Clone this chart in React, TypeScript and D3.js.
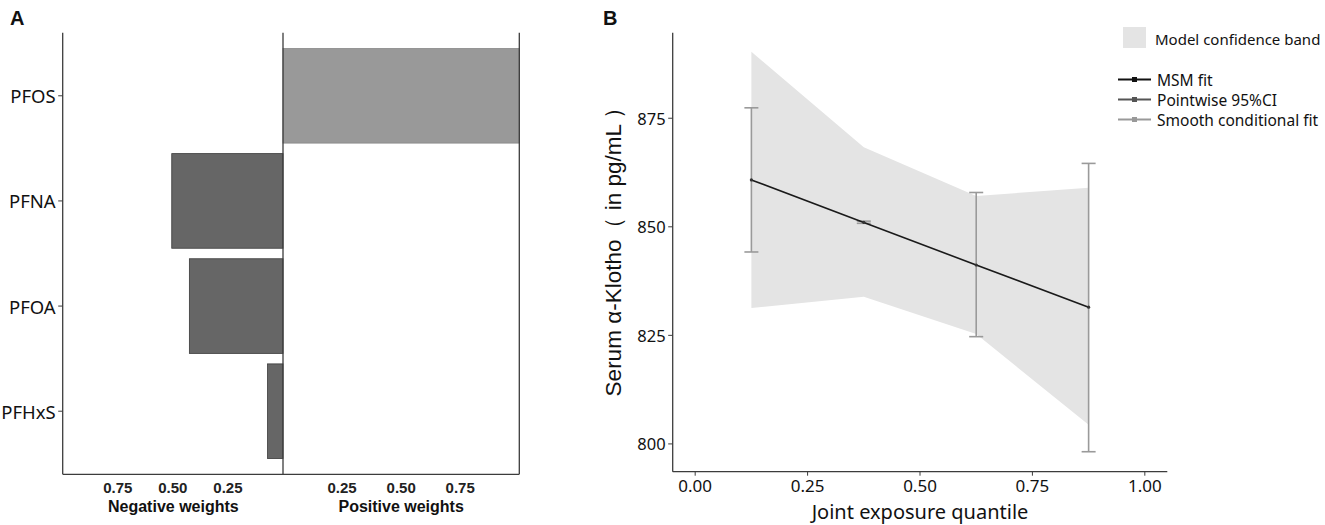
import React, { useEffect, useRef } from 'react';
import * as d3 from 'd3';

// Panel A: qgcomp weights
const chemicals = ['PFOS', 'PFNA', 'PFOA', 'PFHxS'];
const weights = [1.0, -0.505, -0.425, -0.07];
const weightTicks = [0.25, 0.5, 0.75];

// Panel B: joint exposure effect
const quantiles = [0.125, 0.375, 0.625, 0.875];
const msmFit = [860.8, 851.0, 841.2, 831.5];
const ciLower = [844.2, 850.8, 824.7, 798.2];
const ciUpper = [877.4, 851.3, 857.9, 864.6];
const bandLower = [831.3, 833.9, 825.3, 804.4];
const bandUpper = [890.3, 868.3, 857.1, 859.0];
const xTicks = [0, 0.25, 0.5, 0.75, 1];
const yTicks = [800, 825, 850, 875];
const legendLines = ['MSM fit', 'Pointwise 95%CI', 'Smooth conditional fit'];
const legendColors = ['#111', '#555', '#999'];

const sans = '"Noto Sans", "Open Sans", sans-serif';
const arial = '"Liberation Sans", Arial, sans-serif';

const App: React.FC = () => {
  const ref = useRef<SVGSVGElement | null>(null);

  useEffect(() => {
    if (!ref.current) return;
    const svg = d3.select(ref.current);
    svg.selectAll('*').remove();

    // ---------- Panel A ----------
    const top = 32.7;
    const bottom = 474.3;
    const left = 62.7;
    const mid = 283;
    const right = 519.3;

    const y = d3.scaleBand().domain(chemicals).range([top, bottom]).paddingInner(0.1).paddingOuter(0.15);
    const xNeg = d3.scaleLinear().domain([1, 0]).range([left, mid]);
    const xPos = d3.scaleLinear().domain([0, 1]).range([mid, right]);

    const a = svg.append('g');

    a.selectAll('rect.bar')
      .data(chemicals.map((c, i) => ({ c, w: weights[i] })).filter((d) => d.w !== 0))
      .enter()
      .append('rect')
      .attr('class', 'bar')
      .attr('x', (d) => (d.w > 0 ? xPos(0) : xNeg(-d.w)))
      .attr('width', (d) => (d.w > 0 ? xPos(d.w) - xPos(0) : xNeg(0) - xNeg(-d.w)))
      .attr('y', (d) => y(d.c)!)
      .attr('height', y.bandwidth())
      .attr('fill', (d) => (d.w > 0 ? '#999' : '#666'))
      .attr('stroke', (d) => (d.w > 0 ? '#888' : '#3a3a3a'))
      .attr('stroke-width', 0.8);

    // axis lines
    const axisColor = '#3c3c3c';
    [left, mid, right].forEach((xv) =>
      a.append('line').attr('x1', xv).attr('x2', xv).attr('y1', top).attr('y2', bottom)
        .attr('stroke', axisColor).attr('stroke-width', 1.3)
    );
    a.append('line').attr('x1', left).attr('x2', right).attr('y1', bottom).attr('y2', bottom)
      .attr('stroke', axisColor).attr('stroke-width', 1.3);

    // category labels
    chemicals.forEach((c) => {
      const cy = y(c)! + y.bandwidth() / 2;
      a.append('line').attr('x1', left - 4.5).attr('x2', left).attr('y1', cy).attr('y2', cy)
        .attr('stroke', axisColor).attr('stroke-width', 1);
      a.append('text').attr('x', left - 7).attr('y', cy).attr('text-anchor', 'end')
        .attr('dominant-baseline', 'central').attr('font-family', sans).attr('font-size', 18.5)
        .attr('fill', '#111').text(c);
    });

    // tick labels (no tick marks)
    weightTicks.forEach((t) => {
      [xNeg(t), xPos(t)].forEach((xv) =>
        a.append('text').attr('x', xv).attr('y', 487.5).attr('text-anchor', 'middle')
          .attr('dominant-baseline', 'central').attr('font-family', arial).attr('font-weight', 'bold')
          .attr('font-size', 15).attr('fill', '#222').text(t.toFixed(2))
      );
    });
    a.append('text').attr('x', (left + mid) / 2 + 0.5).attr('y', 506).attr('text-anchor', 'middle')
      .attr('dominant-baseline', 'central').attr('font-family', arial).attr('font-weight', 'bold')
      .attr('font-size', 16).attr('fill', '#111').text('Negative weights');
    a.append('text').attr('x', (mid + right) / 2).attr('y', 506).attr('text-anchor', 'middle')
      .attr('dominant-baseline', 'central').attr('font-family', arial).attr('font-weight', 'bold')
      .attr('font-size', 16).attr('fill', '#111').text('Positive weights');

    a.append('text').attr('x', 10).attr('y', 25).attr('font-family', arial).attr('font-weight', 'bold')
      .attr('font-size', 20).attr('fill', '#111').text('A');

    // ---------- Panel B ----------
    const bLeft = 672.7;
    const bRight = 1167.3;
    const bTop = 32.7;
    const bBottom = 471.7;
    const x = d3.scaleLinear().domain([-0.05, 1.05]).range([bLeft, bRight]);
    const yB = d3.scaleLinear().domain([793.6, 894.7]).range([bBottom, bTop]);

    const b = svg.append('g');

    const pts = quantiles.map((q, i) => ({
      q, fit: msmFit[i], lo: ciLower[i], hi: ciUpper[i], bl: bandLower[i], bu: bandUpper[i],
    }));

    const area = d3.area<typeof pts[0]>()
      .x((d) => x(d.q))
      .y0((d) => yB(d.bl))
      .y1((d) => yB(d.bu));
    b.append('path').attr('d', area(pts)!).attr('fill', '#e4e4e4');

    // error bars
    const eb = b.selectAll('g.eb').data(pts).enter().append('g').attr('class', 'eb')
      .attr('stroke', '#9a9a9a').attr('stroke-width', 1.6);
    eb.append('line').attr('x1', (d) => x(d.q)).attr('x2', (d) => x(d.q))
      .attr('y1', (d) => yB(d.hi)).attr('y2', (d) => yB(d.lo));
    eb.append('line').attr('x1', (d) => x(d.q) - 7).attr('x2', (d) => x(d.q) + 7)
      .attr('y1', (d) => yB(d.hi)).attr('y2', (d) => yB(d.hi));
    eb.append('line').attr('x1', (d) => x(d.q) - 7).attr('x2', (d) => x(d.q) + 7)
      .attr('y1', (d) => yB(d.lo)).attr('y2', (d) => yB(d.lo));

    const line = d3.line<typeof pts[0]>().x((d) => x(d.q)).y((d) => yB(d.fit));
    b.append('path').attr('d', line(pts)!).attr('fill', 'none').attr('stroke', '#1a1a1a')
      .attr('stroke-width', 1.6);
    b.selectAll('circle.pt').data(pts).enter().append('circle').attr('class', 'pt')
      .attr('cx', (d) => x(d.q)).attr('cy', (d) => yB(d.fit)).attr('r', 1.6).attr('fill', '#333');

    // axes
    b.append('line').attr('x1', bLeft).attr('x2', bLeft).attr('y1', bTop).attr('y2', bBottom)
      .attr('stroke', axisColor).attr('stroke-width', 1.3);
    b.append('line').attr('x1', bLeft).attr('x2', bRight).attr('y1', bBottom).attr('y2', bBottom)
      .attr('stroke', axisColor).attr('stroke-width', 1.3);

    xTicks.forEach((t) => {
      b.append('line').attr('x1', x(t)).attr('x2', x(t)).attr('y1', bBottom).attr('y2', bBottom + 4)
        .attr('stroke', axisColor).attr('stroke-width', 1);
      b.append('text').attr('x', x(t)).attr('y', 485).attr('text-anchor', 'middle')
        .attr('dominant-baseline', 'central').attr('font-family', sans).attr('font-size', 17)
        .attr('fill', '#111').text(t.toFixed(2));
    });
    yTicks.forEach((t) => {
      b.append('line').attr('x1', bLeft - 4.5).attr('x2', bLeft).attr('y1', yB(t)).attr('y2', yB(t))
        .attr('stroke', axisColor).attr('stroke-width', 1);
      b.append('text').attr('x', bLeft - 7).attr('y', yB(t)).attr('text-anchor', 'end')
        .attr('dominant-baseline', 'central').attr('font-family', sans).attr('font-size', 16.5)
        .attr('fill', '#111').text(String(t));
    });

    b.append('text').attr('x', (bLeft + bRight) / 2).attr('y', 511).attr('text-anchor', 'middle')
      .attr('dominant-baseline', 'central').attr('font-family', sans).attr('font-size', 20)
      .attr('fill', '#111').text('Joint exposure quantile');
    b.append('text').attr('transform', 'translate(621,246) rotate(-90)')
      .attr('text-anchor', 'middle').attr('font-family', arial).attr('font-size', 22.5)
      .attr('fill', '#111').text('Serum α-Klotho（ in pg/mL ）');

    b.append('text').attr('x', 603).attr('y', 25).attr('font-family', arial).attr('font-weight', 'bold')
      .attr('font-size', 20).attr('fill', '#111').text('B');

    // legend
    const lg = svg.append('g');
    lg.append('rect').attr('x', 1123).attr('y', 27).attr('width', 23).attr('height', 21).attr('fill', '#e4e4e4');
    lg.append('text').attr('x', 1155).attr('y', 39).attr('dominant-baseline', 'central')
      .attr('font-family', sans).attr('font-size', 15).attr('fill', '#111').text('Model confidence band');
    legendLines.forEach((label, i) => {
      const ly = 79.5 + i * 20;
      lg.append('line').attr('x1', 1118).attr('x2', 1151).attr('y1', ly).attr('y2', ly)
        .attr('stroke', legendColors[i]).attr('stroke-width', 2.2);
      lg.append('rect').attr('x', 1132).attr('y', ly - 2.5).attr('width', 5).attr('height', 5)
        .attr('fill', legendColors[i]);
      lg.append('text').attr('x', 1157).attr('y', ly).attr('dominant-baseline', 'central')
        .attr('font-family', sans).attr('font-size', 15.5).attr('fill', '#111').text(label);
    });
  }, []);

  return (
    <svg
      ref={ref}
      width={1325}
      height={525}
      style={{ position: 'absolute', left: 0, top: 0, background: '#fff' }}
    />
  );
};

export default App;
